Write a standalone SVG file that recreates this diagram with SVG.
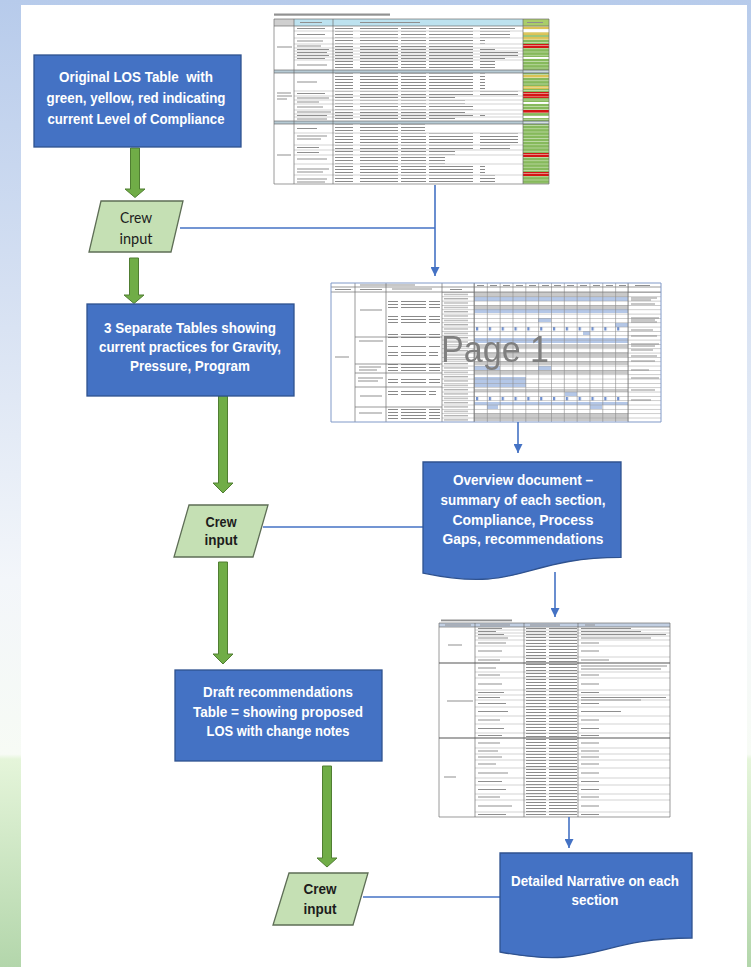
<svg xmlns="http://www.w3.org/2000/svg" width="751" height="967" viewBox="0 0 751 967">
<style>
.box{fill:#4472c4;stroke:#2f528f;stroke-width:1.3}
.bt{font-family:"Liberation Sans",Arial,sans-serif;font-weight:bold;font-size:15px;fill:#ffffff;text-anchor:middle}
.crew{fill:#c5e0b4;stroke:#5e6e56;stroke-width:1.3}
.ct{font-family:"Liberation Sans",Arial,sans-serif;font-weight:bold;font-size:14px;fill:#1c1c1c;text-anchor:middle}
.ct1{font-family:Lato,"Liberation Sans",sans-serif;font-size:15px;fill:#1c1c1c;text-anchor:middle}
.garrow{fill:#70ad47;stroke:#507e32;stroke-width:1}
.conn{fill:none;stroke:#4472c4;stroke-width:1.6}
.grid{fill:none;stroke:#6d6d6d;stroke-width:0.7}
.lgrid{fill:none;stroke:#a5a5a5;stroke-width:0.5}
.lbl{fill:none;stroke:#8f8f8f;stroke-width:1.1}
.tx{fill:url(#tx)}
</style>
<defs>
<linearGradient id="bg" x1="0" y1="0" x2="0" y2="1">
<stop offset="0" stop-color="#b7cbeb"/>
<stop offset="0.3" stop-color="#d5e0f2"/>
<stop offset="0.6" stop-color="#f3f6fa"/>
<stop offset="0.78" stop-color="#f7fbf5"/>
<stop offset="0.785" stop-color="#e5f5da"/>
<stop offset="1" stop-color="#b3d6ab"/>
</linearGradient>
<marker id="ah" markerWidth="9" markerHeight="9" viewBox="0 0 10 10" refX="10" refY="5" orient="auto" markerUnits="userSpaceOnUse">
<path d="M0,0 L10,5 L0,10 z" fill="#4472c4"/>
</marker>
<pattern id="tx" width="120" height="3" patternUnits="userSpaceOnUse">
<rect x="0" y="1" width="38" height="1" fill="#8a8a8a"/>
<rect x="41" y="1" width="25" height="1" fill="#8a8a8a"/>
<rect x="69" y="1" width="44" height="1" fill="#8a8a8a"/>
</pattern>
<pattern id="sg" width="30" height="3.2" patternUnits="userSpaceOnUse" y="26">
<rect width="30" height="0.6" fill="#eef5e6" opacity="0.8"/>
</pattern>
<pattern id="rowg" width="20" height="4.33" patternUnits="userSpaceOnUse" y="292">
<rect width="20" height="0.5" fill="#9a9a9a"/>
</pattern>
<pattern id="colg" width="12.83" height="20" patternUnits="userSpaceOnUse" x="474">
<rect width="0.6" height="20" fill="#8a8a8a"/>
</pattern>
<pattern id="mk" width="12.83" height="3.5" patternUnits="userSpaceOnUse" x="474" y="327">
<rect x="2" y="0" width="2.2" height="3.5" fill="#6f8fcf"/>
</pattern>
<pattern id="tk" width="40" height="4.33" patternUnits="userSpaceOnUse" x="444" y="292">
<rect x="0" y="2" width="24" height="0.9" fill="#8f8f8f"/>
</pattern>
<filter id="soft" x="-2%" y="-2%" width="104%" height="104%">
<feGaussianBlur stdDeviation="0.3"/>
</filter>
</defs>

<rect x="0" y="0" width="751" height="967" fill="url(#bg)"/>
<rect x="21" y="5" width="726" height="962" fill="#ffffff"/>

<g id="tbl-original-los" filter="url(#soft)">
<rect x="274" y="13.5" width="116" height="2.2" fill="#4a4a4a" opacity="0.6"/>
<rect x="274" y="19" width="275" height="165" fill="#ffffff"/>
<rect x="274" y="19" width="20" height="7" fill="#cfcfcf"/>
<rect x="294" y="19" width="229" height="7" fill="#bde2ef"/>
<rect x="523" y="19" width="26" height="7" fill="#a9cd6b"/>
<rect x="274" y="70" width="275" height="3" fill="#b6cad4"/>
<rect x="274" y="121" width="275" height="3" fill="#b6cad4"/>
<rect x="523" y="26" width="26" height="44" fill="#86b95b"/>
<rect x="523" y="26" width="26" height="3" fill="#dcc254"/>
<rect x="523" y="29" width="26" height="3" fill="#ffffff"/>
<rect x="523" y="32" width="26" height="3" fill="#dcc254"/>
<rect x="523" y="37" width="26" height="3" fill="#dcc254"/>
<rect x="523" y="44" width="26" height="4" fill="#d41313"/>
<rect x="523" y="57" width="26" height="2" fill="#ffffff"/>
<rect x="523" y="73" width="26" height="48" fill="#86b95b"/>
<rect x="523" y="75" width="26" height="3" fill="#dcc254"/>
<rect x="523" y="86" width="26" height="3" fill="#dcc254"/>
<rect x="523" y="92" width="26" height="6" fill="#d41313"/>
<rect x="523" y="102" width="26" height="2" fill="#ffffff"/>
<rect x="523" y="110" width="26" height="3" fill="#d41313"/>
<rect x="523" y="116" width="26" height="2" fill="#ffffff"/>
<rect x="523" y="124" width="26" height="60" fill="#86b95b"/>
<rect x="523" y="153" width="26" height="4" fill="#d41313"/>
<rect x="523" y="172" width="26" height="4" fill="#d41313"/>
<rect x="523" y="26" width="26" height="158" fill="url(#sg)"/>
<rect x="335" y="26.5" width="180" height="4" class="tx"/>
<rect x="335" y="31.5" width="175" height="6" class="tx"/>
<rect x="335" y="38.5" width="150" height="5" class="tx"/>
<rect x="335" y="44.5" width="140" height="3" class="tx"/>
<rect x="335" y="48.5" width="160" height="2" class="tx"/>
<rect x="335" y="51.5" width="185" height="2" class="tx"/>
<rect x="335" y="54.5" width="185" height="2" class="tx"/>
<rect x="335" y="57.5" width="170" height="2" class="tx"/>
<rect x="335" y="60.5" width="160" height="9" class="tx"/>
<rect x="335" y="73.5" width="150" height="17" class="tx"/>
<rect x="335" y="91.5" width="185" height="4" class="tx"/>
<rect x="335" y="96.5" width="120" height="3" class="tx"/>
<rect x="335" y="100.5" width="130" height="3" class="tx"/>
<rect x="335" y="104.5" width="140" height="5" class="tx"/>
<rect x="335" y="110.5" width="130" height="3" class="tx"/>
<rect x="335" y="114.5" width="150" height="2" class="tx"/>
<rect x="335" y="117.5" width="120" height="3" class="tx"/>
<rect x="335" y="124.5" width="90" height="8" class="tx"/>
<rect x="335" y="133.5" width="185" height="11" class="tx"/>
<rect x="335" y="145.5" width="175" height="4" class="tx"/>
<rect x="335" y="150.5" width="120" height="4" class="tx"/>
<rect x="335" y="155.5" width="110" height="8" class="tx"/>
<rect x="335" y="164.5" width="150" height="10" class="tx"/>
<rect x="335" y="175.5" width="160" height="8" class="tx"/>
<path class="lbl" d="M297 28.5h28M297 34.5h28M297 41h26M297 46h24M297 49.5h32M297 52.5h30M297 55.5h32M297 58.5h28M297 65h30M297 82h20M297 93.5h28M297 98h32M297 102h22M297 107h26M297 112h34M297 115.5h30M297 119h30M297 128.5h20M297 136h30M297 139h24M297 147.5h22M297 152.5h22M297 159h30M297 169h32M297 172h26M297 179h30M297 182h28M277 47h15M277 93h14M277 96h15M277 99h10M277 155h14M300 22.5h22M360 22.5h60M527 22.5h16"/>
<path class="lgrid" d="M294 31H523M294 38H523M294 44H523M294 48H523M294 51H523M294 54H523M294 57H523M294 60H523M294 91H523M294 96H523M294 100H523M294 104H523M294 110H523M294 114H523M294 117H523M294 133H523M294 145H523M294 150H523M294 155H523M294 164H523M294 175H523"/>
<path class="grid" d="M274 19H549V184H274ZM294 19V184M333 19V184M523 19V184M274 26H549M274 70H549M274 73H549M274 121H549M274 124H549"/>
</g>

<g id="tbl-page1" filter="url(#soft)">
<rect x="331" y="283" width="330" height="139" fill="#ffffff"/>
<g fill="#c9c9c9">
<rect x="474" y="293" width="154" height="4"/>
<rect x="474" y="305" width="154" height="4"/>
<rect x="474" y="345" width="154" height="3"/>
<rect x="474" y="352" width="154" height="5"/>
<rect x="474" y="361" width="154" height="4"/>
<rect x="474" y="370" width="154" height="4"/>
<rect x="474" y="389" width="154" height="3"/>
<rect x="474" y="413" width="154" height="8"/>
</g>
<g fill="#b4c7e7">
<rect x="474" y="297" width="154" height="4"/>
<rect x="474" y="309" width="154" height="4"/>
<rect x="538" y="318" width="13" height="4"/>
<rect x="615" y="323" width="13" height="4"/>
<rect x="583" y="331" width="7" height="4"/>
<rect x="474" y="338" width="154" height="5"/>
<rect x="474" y="366" width="26" height="4"/>
<rect x="538" y="366" width="13" height="4"/>
<rect x="474" y="377" width="52" height="10"/>
<rect x="565" y="392" width="12" height="4"/>
<rect x="474" y="402" width="154" height="3"/>
<rect x="487" y="405" width="11" height="4"/>
<rect x="590" y="405" width="12" height="4"/>
</g>
<rect x="474" y="327" width="154" height="3.5" fill="url(#mk)"/>
<rect x="474" y="397" width="154" height="3.5" fill="url(#mk)"/>
<rect x="442" y="292" width="219" height="130" fill="url(#rowg)"/>
<rect x="474" y="283" width="154.5" height="139" fill="url(#colg)"/>
<rect x="444" y="292" width="28" height="130" fill="url(#tk)"/>
<rect x="388" y="300" width="52" height="8" class="tx"/>
<rect x="388" y="314" width="52" height="10" class="tx"/>
<rect x="388" y="333" width="52" height="6" class="tx"/>
<rect x="388" y="345" width="52" height="4" class="tx"/>
<rect x="388" y="352" width="50" height="4" class="tx"/>
<rect x="388" y="364" width="52" height="7" class="tx"/>
<rect x="388" y="377" width="52" height="6" class="tx"/>
<rect x="388" y="389" width="48" height="6" class="tx"/>
<rect x="388" y="408" width="52" height="12" class="tx"/>
<path class="lbl" d="M360 285h55M335 289.5h16M360 289.5h22M392 289h40M450 289.5h12M477 285.5h7M490 285.5h7M503 285.5h7M516 285.5h7M529 285.5h7M542 285.5h7M554 285.5h7M567 285.5h7M580 285.5h7M593 285.5h7M606 285.5h7M619 285.5h7M635 285.5h15M335 357h14M360 310h22M359 341h24M359 367h22M359 370h18M358 378h25M358 381h20M360 396h22M359 413h23M631 298h26M631 300h20M631 304h24M631 318h28M631 320h24M631 322h26M631 330h22M631 336h26M631 344h28M631 346h24M631 350h22M631 356h26M631 361h24M631 370h18M631 378h28M631 390h24M631 400h20"/>
<path class="grid" d="M355 283V422M386 283V422M442 283V422M474 283V422M628 283V422M331 292H661M331 287H661M355 337H442M355 364H442M355 373H442M355 387H442M355 407H442"/>
<path d="M331 283H661V422H331Z" fill="none" stroke="#8099c8" stroke-width="1"/>
<text x="495" y="362" font-family="'Liberation Sans',Arial,sans-serif" font-size="36" fill="#7f7f7f" text-anchor="middle" textLength="108" lengthAdjust="spacingAndGlyphs">Page 1</text>
</g>

<g id="tbl-proposed" filter="url(#soft)">
<rect x="441" y="619.5" width="71" height="1.8" fill="#4a4a4a" opacity="0.6"/>
<rect x="439" y="623" width="231" height="194" fill="#ffffff"/>
<rect x="439" y="623" width="231" height="4" fill="#c2cfe2"/>
<rect x="526" y="627" width="51" height="190" class="tx"/>
<path class="lbl" d="M448 645h14M447 701h26M444 777h12M478 628.5h24M478 631.5h18M478 634.5h26M478 638h30M478 643h28M478 651h24M478 660h22M478 668h18M478 675h22M478 684h24M478 692.5h26M478 697.5h22M478 703.5h28M478 711.5h30M478 720h22M478 728.5h26M478 735.5h24M478 743h22M478 751h20M478 757h24M478 764h18M478 773h30M478 781.5h24M478 789.5h28M478 797h22M478 806h34M478 814.5h28M581 628.5h50M581 631.5h60M581 634.5h85M581 638h70M581 643h18M581 651h18M581 660h28M581 666h86M581 669h80M581 675h18M581 684h18M581 692.5h18M581 697.5h85M581 700h60M581 703.5h18M581 711.5h40M581 720h18M581 728.5h18M581 735.5h18M581 743h18M581 751h18M581 757h18M581 764h18M581 773h18M581 781.5h18M581 789.5h18M581 797h18M581 806h18M581 814.5h18M445 625h26M480 625h30M530 625h30M585 625h10"/>
<path class="lgrid" d="M475 630H670M475 633H670M475 636H670M475 640H670M475 646H670M475 657H670M475 672H670M475 678H670M475 690H670M475 695H670M475 700H670M475 707H670M475 716H670M475 724H670M475 733H670M475 748H670M475 754H670M475 760H670M475 768H670M475 778H670M475 785H670M475 794H670M475 800H670M475 812H670"/>
<path class="grid" d="M439 623H670V817H439ZM475 623V817M524 623V817M578 623V817M439 627H670"/>
<path d="M439 663H670M439 738H670" stroke="#555555" stroke-width="1.2"/>
</g>

<g id="connectors">
<polygon class="garrow" points="130.5,148 139.5,148 139.5,189 145,189 135,197.5 125,189 130.5,189"/>
<polygon class="garrow" points="129.5,258 138.5,258 138.5,295 144,295 134,303.5 124,295 129.5,295"/>
<polygon class="garrow" points="218.5,396 227.5,396 227.5,483 233,483 223,493 213,483 218.5,483"/>
<polygon class="garrow" points="218.5,562 227.5,562 227.5,654 233,654 223,664 213,654 218.5,654"/>
<polygon class="garrow" points="322.5,766 331.5,766 331.5,858 337,858 327,867 317,858 322.5,858"/>
<path class="conn" d="M180 228H435"/>
<path class="conn" d="M435 185V276" marker-end="url(#ah)"/>
<path class="conn" d="M518 422V453" marker-end="url(#ah)"/>
<path class="conn" d="M263 527H423"/>
<path class="conn" d="M555 572V617" marker-end="url(#ah)"/>
<path class="conn" d="M569 817V848" marker-end="url(#ah)"/>
<path class="conn" d="M363 897H500"/>
</g>

<g id="original-los">
<rect class="box" x="34" y="55" width="207" height="92"/>
<text class="bt" x="136" y="82" textLength="154" lengthAdjust="spacingAndGlyphs" xml:space="preserve">Original LOS Table  with</text>
<text class="bt" x="136" y="103" textLength="179" lengthAdjust="spacingAndGlyphs">green, yellow, red indicating</text>
<text class="bt" x="136" y="124" textLength="177" lengthAdjust="spacingAndGlyphs">current Level of Compliance</text>
</g>

<g id="crew-input-1">
<polygon class="crew" points="101,201 183,201 171,252 89,252"/>
<text class="ct1" x="136" y="223" textLength="32" lengthAdjust="spacingAndGlyphs">Crew</text>
<text class="ct1" x="136" y="244" textLength="33" lengthAdjust="spacingAndGlyphs">input</text>
</g>

<g id="separate-tables">
<rect class="box" x="87" y="304" width="207" height="92"/>
<text class="bt" x="190" y="333" textLength="172" lengthAdjust="spacingAndGlyphs">3 Separate Tables showing</text>
<text class="bt" x="190" y="352" textLength="182" lengthAdjust="spacingAndGlyphs">current practices for Gravity,</text>
<text class="bt" x="190" y="371" textLength="120" lengthAdjust="spacingAndGlyphs">Pressure, Program</text>
</g>

<g id="overview-document">
<path class="box" d="M423,462 H621 V557.4 C522,557.4 522,593.7 423,573.1 Z"/>
<text class="bt" x="523" y="485" textLength="140" lengthAdjust="spacingAndGlyphs">Overview document –</text>
<text class="bt" x="523" y="505" textLength="165" lengthAdjust="spacingAndGlyphs">summary of each section,</text>
<text class="bt" x="523" y="525" textLength="141" lengthAdjust="spacingAndGlyphs">Compliance, Process</text>
<text class="bt" x="523" y="544" textLength="161" lengthAdjust="spacingAndGlyphs">Gaps, recommendations</text>
</g>

<g id="crew-input-2">
<polygon class="crew" points="189,505 268,505 253,557 174,557"/>
<text class="ct" x="221" y="527" textLength="31" lengthAdjust="spacingAndGlyphs">Crew</text>
<text class="ct" x="221" y="545" textLength="33" lengthAdjust="spacingAndGlyphs">input</text>
</g>

<g id="draft-recommendations">
<rect class="box" x="175" y="670" width="207" height="91"/>
<text class="bt" x="278" y="697" textLength="150" lengthAdjust="spacingAndGlyphs">Draft recommendations</text>
<text class="bt" x="278" y="717" textLength="170" lengthAdjust="spacingAndGlyphs">Table = showing proposed</text>
<text class="bt" x="278" y="736" textLength="143" lengthAdjust="spacingAndGlyphs">LOS with change notes</text>
</g>

<g id="crew-input-3">
<polygon class="crew" points="289,873 368,873 353,925 273,925"/>
<text class="ct" x="320" y="894" textLength="33" lengthAdjust="spacingAndGlyphs">Crew</text>
<text class="ct" x="320" y="914" textLength="33" lengthAdjust="spacingAndGlyphs">input</text>
</g>

<g id="detailed-narrative">
<path class="box" d="M500,853 H692 V938 C596,938 596,970.3 500,952 Z"/>
<text class="bt" x="595" y="886" textLength="168" lengthAdjust="spacingAndGlyphs">Detailed Narrative on each</text>
<text class="bt" x="595" y="905" textLength="47" lengthAdjust="spacingAndGlyphs">section</text>
</g>
</svg>
